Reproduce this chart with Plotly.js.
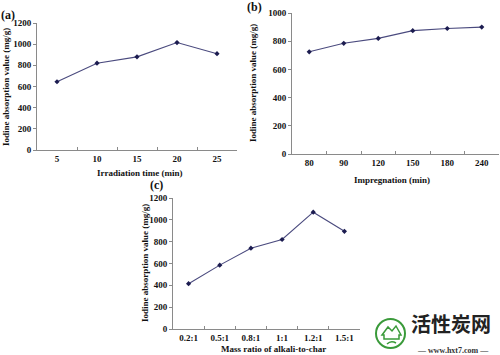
<!DOCTYPE html>
<html><head><meta charset="utf-8">
<script src="https://cdn.plot.ly/plotly-3.0.1.min.js"></script>
<style>html,body{margin:0;padding:0;background:#fff}#chart{width:500px;height:355px}</style>
</head><body><div id="chart"></div>
<script>
// Panel (a)
const catsA = ["5","10","15","20","25"];
const valsA = [645, 820, 880, 1015, 910];
// Panel (b)
const catsB = ["80","90","120","150","180","240"];
const valsB = [725, 785, 820, 875, 890, 900];
// Panel (c)
const catsC = ["0.2:1","0.5:1","0.8:1","1:1","1.2:1","1.5:1"];
const valsC = [415, 585, 740, 820, 1070, 895];

const lineStyle = {color:'#4a4a7e', width:1.1};
const markerStyle = {symbol:'diamond', size:4, color:'#1c1c50'};
function tr(x,y,xa,ya){return {x:x,y:y,xaxis:xa,yaxis:ya,type:'scatter',mode:'lines+markers',line:lineStyle,marker:markerStyle,hoverinfo:'skip',cliponaxis:false};}

const FONT = {family:'Liberation Serif, Times New Roman, serif', size:9, color:'#111'};
function xax(dom, anchor, n){return {domain:dom, anchor:anchor, type:'category', range:[-0.5,n-0.5], showgrid:false, zeroline:false,
  showline:true, linecolor:'#8a8a8a', linewidth:1, ticks:'inside', ticklen:3, tickcolor:'#8a8a8a', tickson:'boundaries',
  tickfont:{family:FONT.family,size:9,color:'#111',weight:'bold'}, fixedrange:true};}
function yax(dom, anchor, maxv, dt){return {domain:dom, anchor:anchor, range:[0,maxv], dtick:dt, showgrid:false, zeroline:false,
  showline:true, linecolor:'#8a8a8a', linewidth:1, ticks:'outside', ticklen:3, tickcolor:'#8a8a8a',
  tickfont:{family:FONT.family,size:9,color:'#111',weight:'bold'}, fixedrange:true};}

const bold = (t)=>'<b>'+t+'</b>';
const ann = [];
function A(text,x,y,opts){ann.push(Object.assign({text:text,x:x,y:y,xref:'paper',yref:'paper',showarrow:false,
  font:{family:FONT.family,size:9,color:'#111'},xanchor:'center',yanchor:'middle'},opts||{}));}
const px=(v)=>v/500, py=(v)=>1-v/355;
A(bold('(a)'),px(8),py(15),{font:{family:FONT.family,size:12,color:'#111'}});
A(bold('(b)'),px(254),py(7),{font:{family:FONT.family,size:12,color:'#111'}});
A(bold('(c)'),px(156),py(185),{font:{family:FONT.family,size:12,color:'#111'}});
A(bold('Irradiation time (min)'),px(140),py(173));
A(bold('Impregnation (min)'),px(392),py(180));
A(bold('Mass ratio of alkali-to-char'),px(273),py(349));
A(bold('Iodine absorption value (mg/g)'),px(6),py(87),{textangle:-90});
A(bold('Iodine absorption value (mg/g)'),px(253),py(83),{textangle:-90});
A(bold('Iodine absorption value (mg/g)'),px(145),py(263),{textangle:-90});
// watermark
A(bold('活性炭网'),px(451),py(323),{font:{family:'Noto Sans CJK SC',size:20,color:'#222'}});
A(bold('— www.hxt7.com —'),px(453),py(350),{font:{family:FONT.family,size:8,color:'#333'}});

const shapes = [
  {type:'circle',xref:'paper',yref:'paper',x0:px(376),x1:px(405),y0:py(348),y1:py(319),line:{color:'#3a9a3a',width:2}},
  {type:'path',xref:'paper',yref:'paper',path:'M '+px(382)+','+py(335)+' L '+px(388)+','+py(327)+' L '+px(392)+','+py(331)+' L '+px(396)+','+py(326)+' L '+px(401)+','+py(335)+' L '+px(399)+','+py(335)+' L '+px(399)+','+py(339)+' L '+px(384)+','+py(339)+' L '+px(384)+','+py(335)+' Z',line:{color:'#3a9a3a',width:1.5},fillcolor:'rgba(0,0,0,0)'},
  {type:'path',xref:'paper',yref:'paper',path:'M '+px(387)+','+py(344)+' Q '+px(391)+','+py(340)+' '+px(396)+','+py(343),line:{color:'#3a9a3a',width:1.5}}
];

const data = [tr(catsA,valsA,'x','y'), tr(catsB,valsB,'x2','y2'), tr(catsC,valsC,'x3','y3')];
const layout = {
  width:500, height:355, margin:{l:0,r:0,t:0,b:0}, paper_bgcolor:'#fff', plot_bgcolor:'#fff', showlegend:false,
  font:FONT,
  xaxis: xax([px(37),px(237)],'y',5),
  yaxis: yax([py(150),py(23)],'x',1200,200),
  xaxis2: xax([px(292),px(499)],'y2',6),
  yaxis2: yax([py(154),py(13)],'x2',1000,200),
  xaxis3: xax([px(173),px(360)],'y3',6),
  yaxis3: yax([py(329),py(198)],'x3',1200,200),
  annotations: ann, shapes: shapes
};
Plotly.newPlot('chart', data, layout, {displayModeBar:false, staticPlot:true});
</script></body></html>
